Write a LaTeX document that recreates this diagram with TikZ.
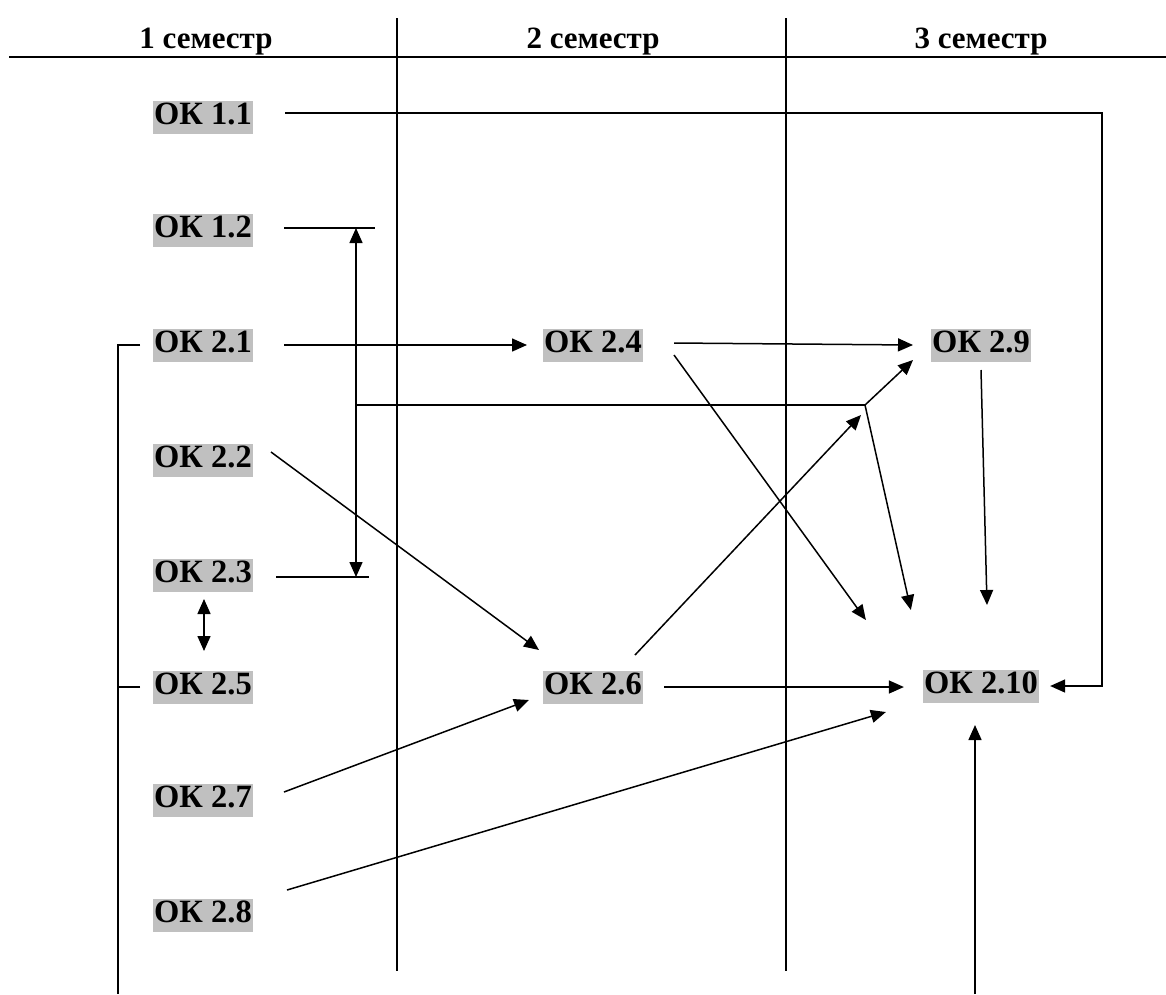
\documentclass[tikz,border=0pt]{standalone}
\usepackage{fontspec}
\setmainfont{Liberation Serif}
\usetikzlibrary{arrows.meta,calc}
\definecolor{okgray}{HTML}{C0C0C0}
\begin{document}
\begin{tikzpicture}[x=1pt,y=-1pt,
  ok/.style={fill=okgray,inner xsep=1pt,inner ysep=0pt,text height=24pt,text depth=9pt,font=\fontsize{32.5}{38}\selectfont\bfseries},
  hd/.style={inner sep=0pt,font=\fontsize{31}{36}\selectfont\bfseries},
  ln/.style={line width=1.5pt},
  arr/.style={ln,-{Triangle[length=15pt,width=13pt]}},
  arrb/.style={ln,{Triangle[length=15pt,width=13pt]}-{Triangle[length=15pt,width=13pt]}}]
\useasboundingbox (0,0) rectangle (1166,994);
% header
\node[hd] (h1) at (206,42) {1 семестр};
\node[hd] (h2) at (593,42) {2 семестр};
\node[hd] (h3) at (981,42) {3 семестр};
\draw[line width=1.9pt] (9,57) -- (1166,57);
\draw[ln] (397,18) -- (397,971);
\draw[ln] (786,18) -- (786,971);
% nodes
\node[ok] (o11) at (203,117) {ОК 1.1};
\node[ok] (o12) at (203,230) {ОК 1.2};
\node[ok] (o21) at (203,345) {ОК 2.1};
\node[ok] (o22) at (203,460) {ОК 2.2};
\node[ok] (o23) at (203,575) {ОК 2.3};
\node[ok] (o25) at (203,687) {ОК 2.5};
\node[ok] (o27) at (203,800) {ОК 2.7};
\node[ok] (o28) at (203,915) {ОК 2.8};
\node[ok] (o24) at (593,345) {ОК 2.4};
\node[ok] (o26) at (593,687) {ОК 2.6};
\node[ok] (o29) at (981,345) {ОК 2.9};
\node[ok] (o210) at (981,686) {ОК 2.10};
% coordinates
\coordinate (c11) at (1102,686);
\coordinate (t12) at (356,228);
\coordinate (t23) at (356,577);
\coordinate (tm) at (356,405);
\coordinate (J) at (865,405);
\coordinate (bl) at (118,994);
\coordinate (br) at (975,994);
% connectors
\draw[arr] ($(o11.east)+(32,-4)$) -| (c11) -- ($(o210.east)+(11,0)$);
\draw[ln] ($(o12.east)+(31,-2)$) -- ($(t12)+(19,0)$);
\draw[ln] ($(o23.east)+(23,2)$) -- ($(t23)+(13,0)$);
\draw[arrb] (t12) -- (t23);
\draw[ln] (tm) -- (J);
\draw[arr] (J) -- ($(o29.west)+(-18,15)$);
\draw[arr] (J) -- ($(o210.west)+(-12,-76)$);
\draw[arr] ($(o21.east)+(31,0)$) -- ($(o24.west)+(-16,0)$);
\draw[arr] ($(o24.east)+(31,-2)$) -- ($(o29.west)+(-18,0)$);
\draw[arr] ($(o24.east)+(31,10)$) -- ($(o210.west)+(-57,-66)$);
\draw[arr] ($(o22.east)+(18,-8)$) -- ($(o26.west)+(-4,-37)$);
\draw[arr] ($(o26.center)+(42,-32)$) -- ($(o29.west)+(-70,70)$);
\draw[arr] ($(o26.east)+(21,0)$) -- ($(o210.west)+(-19,1)$);
\draw[arr] ($(o27.east)+(31,-8)$) -- ($(o26.west)+(-14,13)$);
\draw[arr] ($(o28.east)+(34,-25)$) -- ($(o210.west)+(-37,26)$);
\draw[arr] ($(o29.center)+(0,25)$) -- ($(o210.center)+(6,-81)$);
\draw[arr] (br) -- ($(o210.center)+(-6,39)$);
\draw[ln] ($(o21.west)+(-13,0)$) -- (o21.west -| bl) -- (bl);
\draw[ln] ($(o25.west)+(-13,0)$) -- (o25.west -| bl);
\draw[arrb] ($(o23.center)+(1,24)$) -- ($(o25.center)+(1,-36)$);
\end{tikzpicture}
\end{document}
